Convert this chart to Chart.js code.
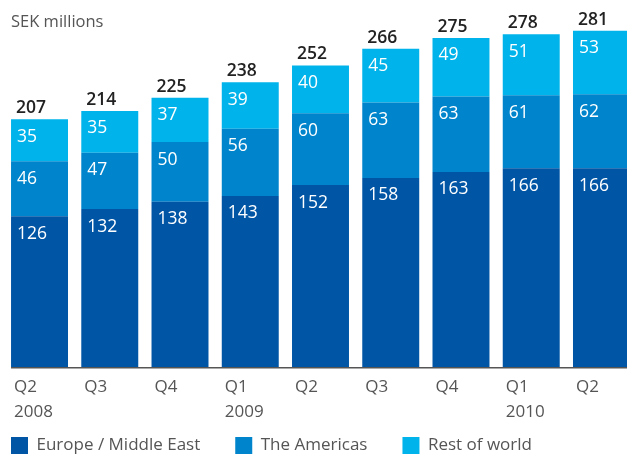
<!DOCTYPE html>
<html>
<head>
<meta charset="utf-8">
<script src="https://cdn.jsdelivr.net/npm/chart.js@4.4.0/dist/chart.umd.min.js"></script>
<style>
  html, body { margin: 0; padding: 0; overflow: hidden; background: #fff; width: 627px; height: 454px; }
  canvas { display: block; }
</style>
</head>
<body>
<canvas id="c" width="640" height="484"></canvas>
<script>
const quarters = ['Q2','Q3','Q4','Q1','Q2','Q3','Q4','Q1','Q2'];
const years    = ['2008','','','2009','','','','2010',''];
const europe   = [126,132,138,143,152,158,163,166,166];
const americas = [46,47,50,56,60,63,63,61,62];
const rest     = [35,35,37,39,40,45,49,51,53];
const totals   = [207,214,225,238,252,266,275,278,281];
const seriesNames = ['Europe / Middle East','The Americas','Rest of world'];
const yMax = 300;

const FONT = '"Open Sans", "Noto Sans", sans-serif';
const labels = quarters.map((q, i) => [q, years[i]]);

const labelPlugin = {
  id: 'barLabels',
  afterLayout(chart) {
    // pull the legend up closer to the axis labels
    chart.legend.top -= 20;
    chart.legend.bottom -= 20;
  },
  afterDatasetsDraw(chart) {
    const ctx = chart.ctx;
    ctx.save();
    // baseline
    const first = chart.getDatasetMeta(0).data[0];
    const y0 = chart.scales.y.getPixelForValue(0);
    ctx.strokeStyle = '#555';
    ctx.lineWidth = 1.5;
    ctx.beginPath();
    ctx.moveTo(first.x - first.width / 2, y0 + 0.75);
    ctx.lineTo(chart.width, y0 + 0.75);
    ctx.stroke();
    // segment values
    ctx.textBaseline = 'middle';
    ctx.textAlign = 'left';
    ctx.fillStyle = '#ffffff';
    ctx.font = '17.5px ' + FONT;
    chart.data.datasets.forEach((ds, i) => {
      chart.getDatasetMeta(i).data.forEach((bar, j) => {
        ctx.fillText(String(ds.data[j]), bar.x - bar.width / 2 + 6, bar.y + 17.5);
      });
    });
    // totals
    ctx.fillStyle = '#222';
    ctx.font = '600 17.5px ' + FONT;
    chart.getDatasetMeta(2).data.forEach((bar, j) => {
      ctx.fillText(String(totals[j]), bar.x - bar.width / 2 + 5, bar.y - 11);
    });
    // unit title
    ctx.fillStyle = '#555';
    ctx.font = '16.5px ' + FONT;
    ctx.fillText('SEK millions', 11, 22);
    ctx.restore();
  }
};

new Chart(document.getElementById('c'), {
  type: 'bar',
  data: {
    labels: labels,
    datasets: [
      { label: seriesNames[0], data: europe,   backgroundColor: '#0055A5' },
      { label: seriesNames[1], data: americas, backgroundColor: '#0085CC' },
      { label: seriesNames[2], data: rest,     backgroundColor: '#00B4EB' }
    ]
  },
  options: {
    responsive: false,
    animation: false,
    devicePixelRatio: 1,
    layout: { padding: { left: -24, right: 3.4, top: 8, bottom: 0 } },
    datasets: { bar: { barPercentage: 0.811, categoryPercentage: 1, borderWidth: 0 } },
    scales: {
      x: {
        stacked: true,
        offset: true,
        grid: { display: false, drawTicks: false },
        border: { display: false },
        ticks: {
          align: 'start',
          labelOffset: -25.5,
          padding: 7.5,
          autoSkip: false,
          maxRotation: 0,
          minRotation: 0,
          color: '#555',
          font: { family: FONT, size: 17, lineHeight: 1.46 }
        },
        afterFit(s) { s.height = 55; }
      },
      y: {
        stacked: true,
        min: 0,
        max: yMax,
        grid: { display: false, drawTicks: false },
        border: { display: false },
        ticks: { display: false },
        afterFit(s) { s.width = 28.4; }
      }
    },
    plugins: {
      legend: {
        position: 'bottom',
        align: 'start',
        labels: {
          boxWidth: 17,
          boxHeight: 17,
          padding: 35,
          color: '#555',
          font: { family: FONT, size: 17 }
        }
      },
      tooltip: { enabled: false }
    }
  },
  plugins: [labelPlugin]
});
</script>
</body>
</html>
